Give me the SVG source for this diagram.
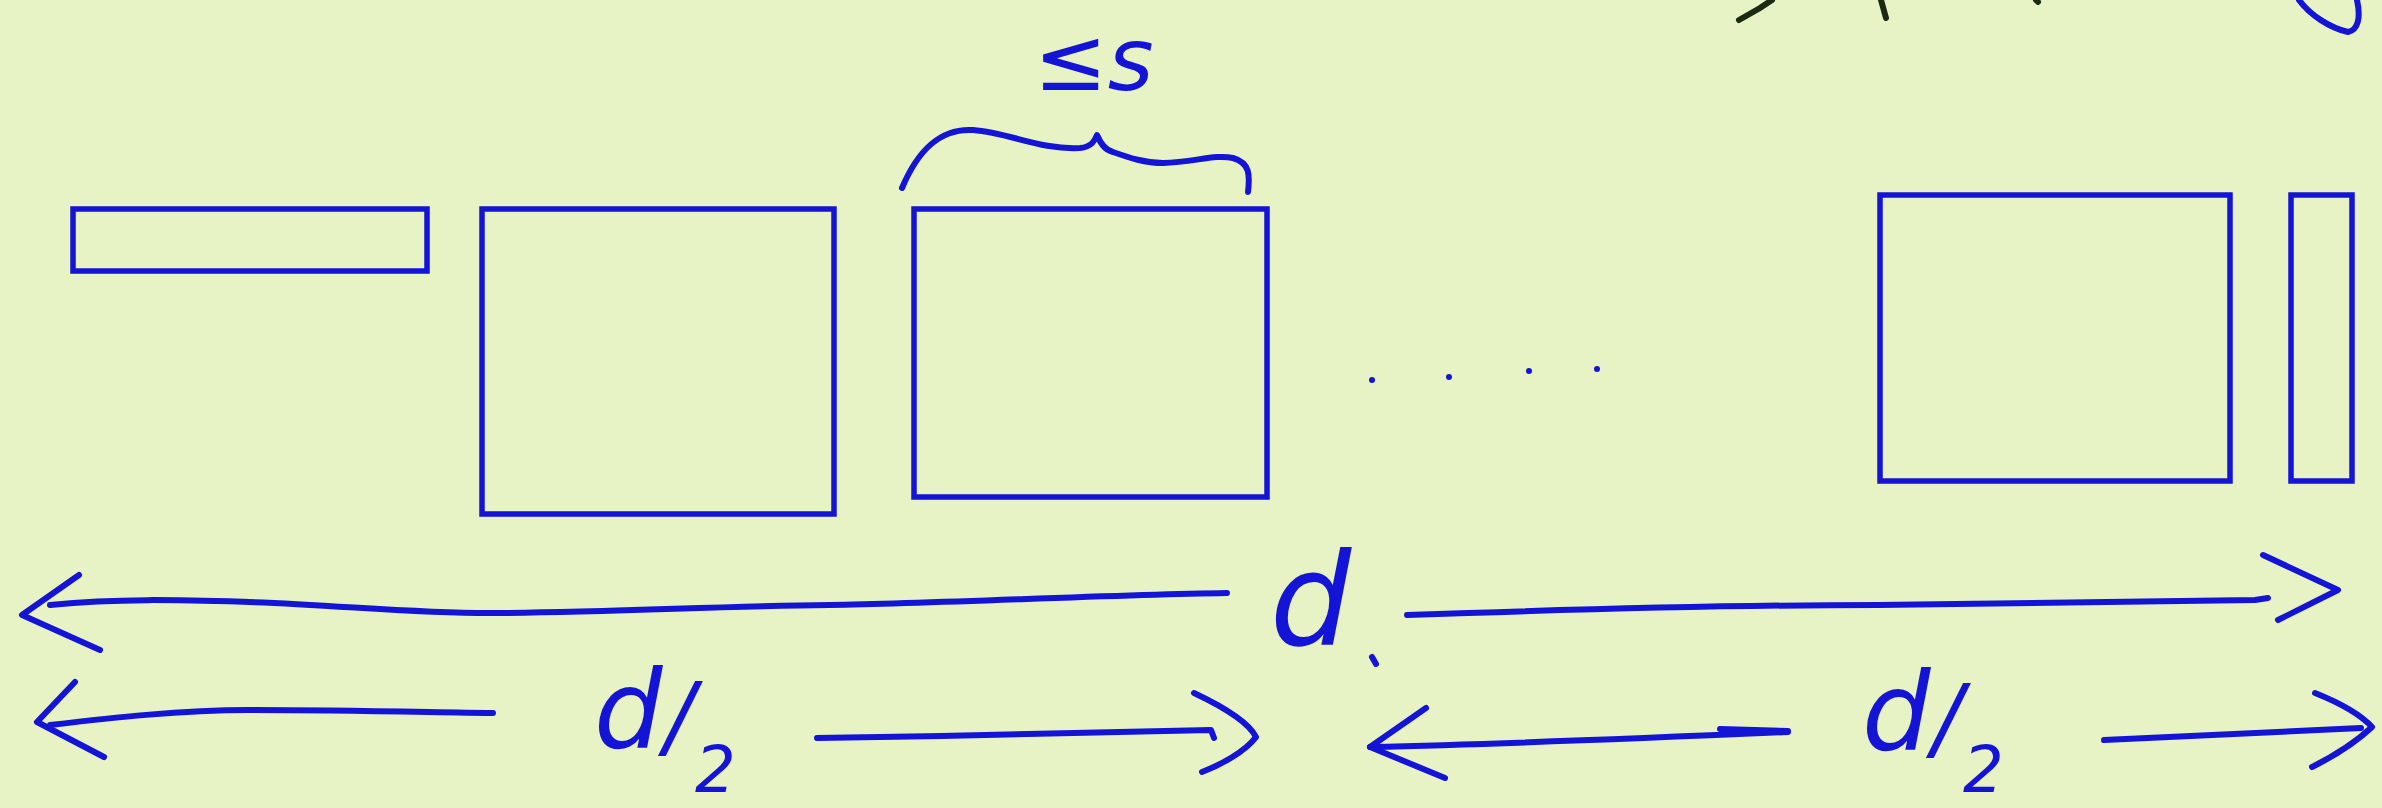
<svg xmlns="http://www.w3.org/2000/svg" width="2382" height="808" viewBox="0 0 2382 808">
<style>
.box{fill:none;stroke:#1414d6;stroke-width:5.5}
.ink{fill:none;stroke:#1414d6;stroke-width:6;stroke-linecap:round;stroke-linejoin:round}
.blk{fill:none;stroke:#1c2a12;stroke-width:6;stroke-linecap:round}
.lbl{fill:#1414d6;font-family:"DejaVu Sans","Liberation Sans",sans-serif;font-style:oblique}
</style>
<rect width="2382" height="808" fill="#e7f2c5"/>
<g id="top-fragments">
<path class="blk" d="M1739,20 L1760,8 L1772,0"/>
<path class="blk" d="M1881,0 L1886,18"/>
<path class="blk" d="M2036,0 L2038,2"/>
<path class="ink" d="M2299,0 C2310,15 2330,28 2348,32 C2358,30 2361,18 2357,0"/>
</g>
<g id="block1"><rect class="box" x="73" y="209" width="354" height="62"/></g>
<g id="block2"><rect class="box" x="482" y="209" width="352" height="305"/></g>
<g id="block3"><rect class="box" x="914" y="209" width="353" height="288"/></g>
<g id="block4"><rect class="box" x="1880" y="195" width="350" height="286"/></g>
<g id="block5"><rect class="box" x="2291" y="195" width="61" height="286"/></g>
<g id="ellipsis">
<circle cx="1372" cy="380" r="3" fill="#1414d6"/>
<circle cx="1449" cy="377" r="3" fill="#1414d6"/>
<circle cx="1529" cy="371" r="3" fill="#1414d6"/>
<circle cx="1597" cy="369" r="3" fill="#1414d6"/>
</g>
<g id="brace">
<path class="ink" d="M902,188 C918,150 940,128 973,130 C1010,133 1040,150 1080,148 C1092,147 1095,140 1097,135 C1100,142 1104,150 1113,152 C1130,158 1145,163 1163,163 C1195,162 1215,154 1233,158 C1250,163 1250,175 1248,192"/>
<text class="lbl" x="1034" y="90" font-size="88">≤s</text>
</g>
<g id="connectors">
<path class="ink" d="M50,605 C120,598 180,600 249,602 C340,605 420,614 498,613 C620,612 720,606 829,605 C950,603 1100,595 1227,593"/>
<path class="ink" d="M79,575 L22,615 L100,650"/>
<path class="ink" d="M1407,615 C1550,610 1720,605 1878,605 C2030,604 2150,602 2255,600 L2268,598"/>
<path class="ink" d="M2263,555 L2338,590 L2278,620"/>
<path class="ink" d="M50,725 C110,718 180,710 249,710 C340,710 420,712 493,713"/>
<path class="ink" d="M75,682 L37,722 L104,757"/>
<path class="ink" d="M817,738 C950,736 1100,733 1211,730 L1214,738"/>
<path class="ink" d="M1194,693 C1230,710 1250,725 1256,737 C1245,752 1220,765 1202,772"/>
<path class="ink" d="M1370,747 C1500,744 1650,738 1788,732 M1720,729 L1788,731"/>
<path class="ink" d="M1426,708 L1370,747 L1445,778"/>
<path class="ink" d="M2104,740 C2200,736 2290,731 2361,728"/>
<path class="ink" d="M2315,693 C2345,705 2362,716 2372,727 C2355,743 2330,758 2312,767"/>
</g>
<g id="labels">
<text class="lbl" x="1270" y="645" font-size="128">d</text>
<path class="ink" d="M1372,657 L1376,664"/>
<text class="lbl" x="594" y="748" font-size="108">d<tspan font-size="90" dx="2">/</tspan><tspan font-size="64" dy="44" dx="0">2</tspan></text>
<text class="lbl" x="1862" y="750" font-size="108">d<tspan font-size="90" dx="2">/</tspan><tspan font-size="64" dy="42" dx="0">2</tspan></text>
</g>
</svg>
